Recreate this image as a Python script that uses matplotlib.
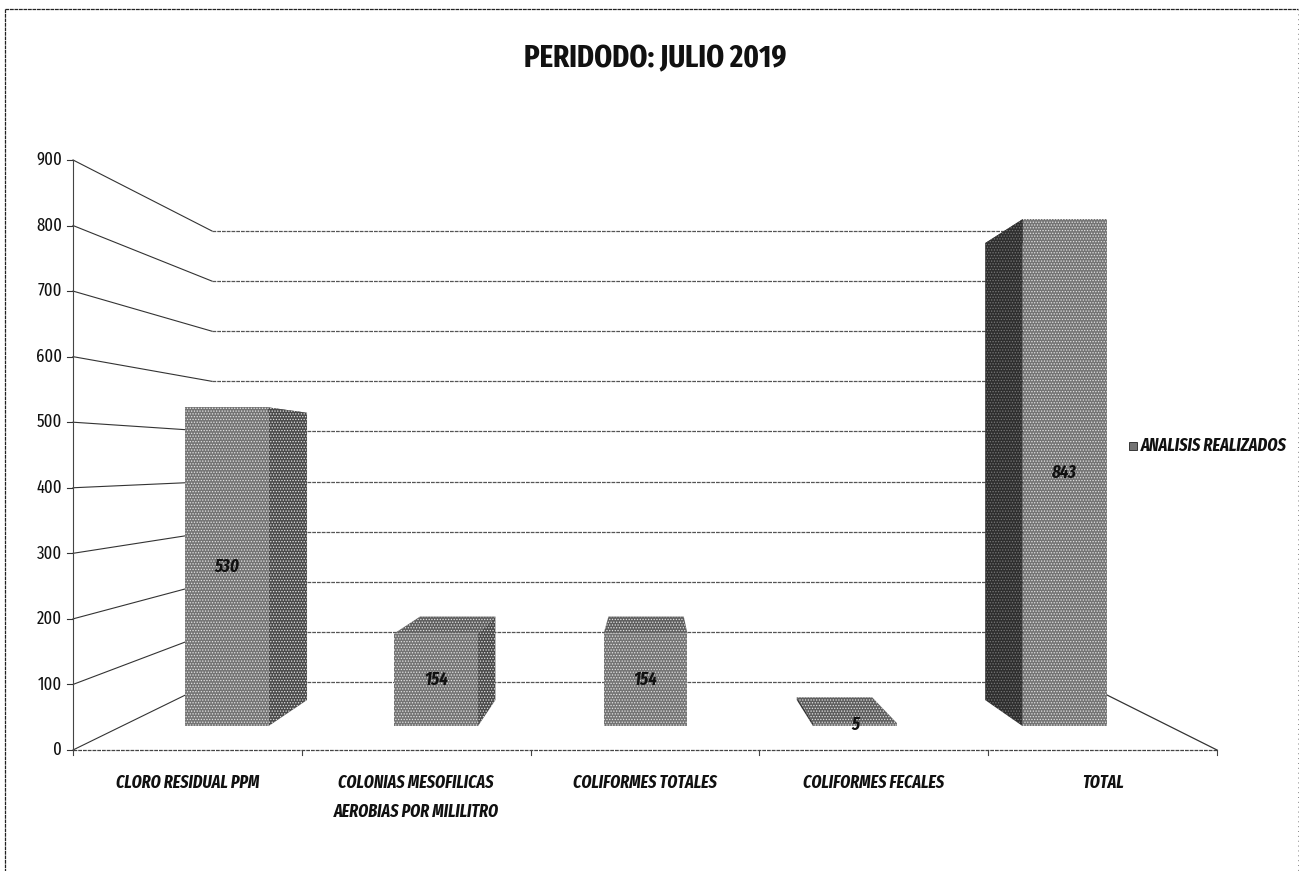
import matplotlib
matplotlib.use("Agg")
import matplotlib.pyplot as plt
from matplotlib.patches import Polygon

categories = ["CLORO RESIDUAL PPM", "COLONIAS MESOFILICAS\nAEROBIAS POR MILILITRO",
              "COLIFORMES TOTALES", "COLIFORMES FECALES", "TOTAL"]
values = [530, 154, 154, 5, 843]
y_ticks = [0, 100, 200, 300, 400, 500, 600, 700, 800, 900]
title = "PERIDODO: JULIO 2019"
series_name = "ANALISIS REALIZADOS"

W, H = 1303, 871
NARROW = ["Fira Sans Extra Condensed", "Barlow Condensed", "Liberation Sans", "DejaVu Sans"]
plt.rcParams["font.family"] = NARROW
plt.rcParams["hatch.linewidth"] = 0.6

fig = plt.figure(figsize=(W / 100, H / 100), dpi=100, facecolor="white")
ax = fig.add_axes([0, 0, 1, 1])
ax.set_xlim(0, W)
ax.set_ylim(H, 0)
ax.axis("off")

# fake 3d: t is depth, 0 = front of floor, 1 = back wall
def proj(cat, val, t):
    left = 73 + 139 * t
    right = 1217 - 136 * t
    x = left + (right - left) * cat / len(categories)
    y = 750 - 68 * t - val * (0.6556 - 0.1545 * t)
    return x, y

T_FRONT, T_BACK = 0.35, 0.735
BAR = 0.2  # half width, in category units

# walls and grid
for v in y_ticks:
    x0, y0 = proj(0, v, 0)
    x1, y1 = proj(0, v, 1)
    x2, y2 = proj(len(categories), v, 1)
    ax.plot([x0, x1], [y0, y1], color="#333333", lw=0.8, zorder=1)
    ax.plot([x1, x2], [y1, y2], color="#555555", lw=0.9, ls=(0, (3, 0.8)), zorder=1)
    ax.plot([x0 - 6, x0], [y0, y0], color="#333333", lw=0.8, zorder=1)
    ax.text(x0 - 11, y0, str(v), ha="right", va="center", fontsize=13, color="#111111")

x0, y0 = proj(0, 0, 0)
ax.plot([x0, x0], [proj(0, 900, 0)[1], y0], color="#444444", lw=0.8, zorder=1)
xr, yr = proj(len(categories), 0, 0)
ax.plot([x0, xr], [y0, yr], color="#444444", lw=0.9, ls=(0, (3, 0.8)), zorder=1)
xb, yb = proj(len(categories), 0, 1)
ax.plot([xr, xb], [yr, yb], color="#333333", lw=0.9, zorder=1)
for i in range(len(categories) + 1):
    xt, yt = proj(i, 0, 0)
    ax.plot([xt, xt], [yt, yt + 5], color="#444444", lw=0.8, zorder=1)

# bars, back to front
def face(pts, fc, z):
    hatch_col = "#e2e2e2" if fc != "#2e2e2e" else "#777777"
    ax.add_patch(Polygon(pts, closed=True, facecolor=fc, edgecolor=hatch_col,
                         hatch="......", lw=0, zorder=z))

for i, v in enumerate(values):
    c = i + 0.5
    fl, fr = c - BAR, c + BAR
    top = [proj(fl, v, T_FRONT), proj(fr, v, T_FRONT), proj(fr, v, T_BACK), proj(fl, v, T_BACK)]
    face(top, "#5e5e5e", 2)
    # side faces, only the one turned to the viewer shows
    if proj(fr, 0, T_BACK)[0] > proj(fr, 0, T_FRONT)[0]:
        side = [proj(fr, 0, T_FRONT), proj(fr, v, T_FRONT), proj(fr, v, T_BACK), proj(fr, 0, T_BACK)]
        face(side, "#4a4a4a", 3)
    if proj(fl, 0, T_BACK)[0] < proj(fl, 0, T_FRONT)[0]:
        side = [proj(fl, 0, T_FRONT), proj(fl, v, T_FRONT), proj(fl, v, T_BACK), proj(fl, 0, T_BACK)]
        face(side, "#2e2e2e", 3)
    front = [proj(fl, 0, T_FRONT), proj(fr, 0, T_FRONT), proj(fr, v, T_FRONT), proj(fl, v, T_FRONT)]
    face(front, "#747474", 4)
    lx, ly = proj(c, v / 2, T_FRONT)
    ax.text(lx, ly, str(v), ha="center", va="center", fontsize=13, color="#111111",
            style="italic", fontweight="bold", zorder=6)

# category labels
for i, name in enumerate(categories):
    xc, yc = proj(i + 0.5, 0, 0)
    ax.text(xc, yc + 24, name, ha="center", va="top", fontsize=12.6, color="#111111",
            style="italic", fontweight="bold", linespacing=1.8)

ax.text(655, 59, title, ha="center", va="center", fontsize=22.5, fontweight="bold", color="#111111")

# legend
ax.add_patch(Polygon([(1129, 442), (1137, 442), (1137, 450), (1129, 450)], closed=True,
                     facecolor="#747474", edgecolor="#222222", lw=0.6))
ax.text(1141, 446, series_name, ha="left", va="center", fontsize=12.8, style="italic",
        fontweight="bold", color="#111111")

# scanned frame: no bottom edge, faint on the right
top_x = [5, 1298]
top_y = [9, 9]
left_x = [5, 5]
left_y = [9, 871]
right_x = [1298, 1298]
right_y = [9, 871]
ax.plot(top_x, top_y, color="#222222", lw=0.9, ls=(0, (3, 0.6)), zorder=0)
ax.plot(left_x, left_y, color="#222222", lw=0.9, ls=(0, (3, 0.6)), zorder=0)
ax.plot(right_x, right_y, color="#888888", lw=0.7, ls=(0, (1, 4)), zorder=0)

fig.savefig("out.png", dpi=100)
